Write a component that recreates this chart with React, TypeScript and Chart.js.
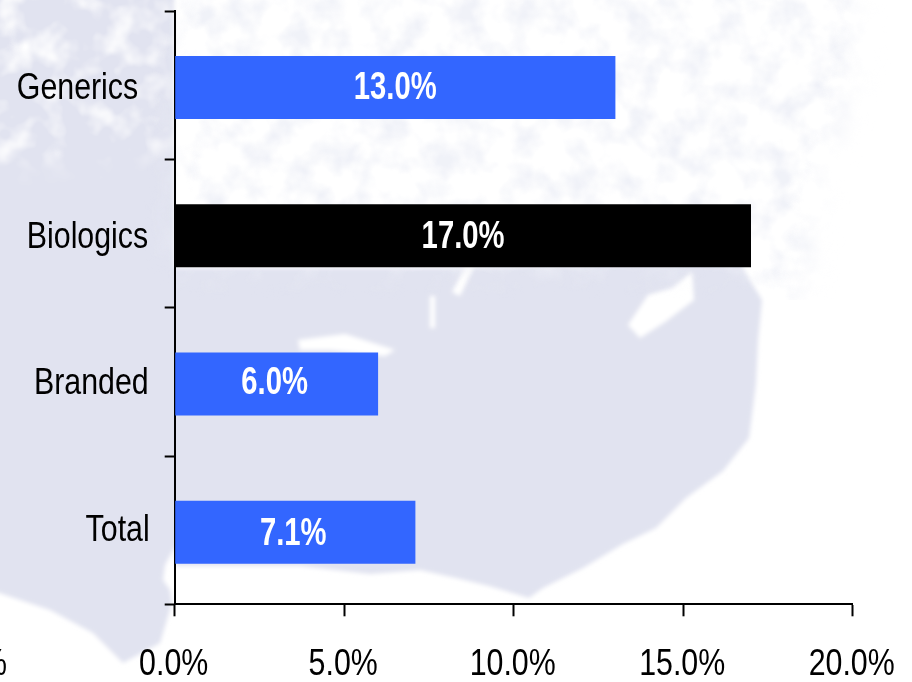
import React, { useEffect, useRef } from "react";
import { Chart, registerables } from "chart.js";

Chart.register(...registerables);

const categories = ["Generics", "Biologics", "Branded", "Total"];
const growthValues = [13.0, 17.0, 6.0, 7.1];
const barColors = ["#3366FF", "#000000", "#3366FF", "#3366FF"];
const axisTicks = [0, 5, 10, 15, 20];
const categoryLabelInsets = [36.5, 26.5, 26, 25];
const categoryBaselineShifts = [13.5, 14.5, 12.5, 11];
const valueBaselineShifts = [14, 14.5, 12.5, 15];
const valueCentreShifts = [0, 0, -2, -2];
const FONT = '"Liberation Sans", Arial, sans-serif';
const CONDENSE = 0.82;

const percent = (v: number) => `${v.toFixed(1)}%`;

// Draws text squeezed horizontally, anchored at (x, y).
function narrowText(ctx: any, text: string, x: number, y: number, squeeze = CONDENSE) {
  ctx.save();
  ctx.translate(x, y);
  ctx.scale(squeeze, 1);
  ctx.fillText(text, 0, 0);
  ctx.restore();
}

// Nudges the bars down inside their category bands.
const barNudge = {
  id: "barNudge",
  beforeDatasetsDraw(chart: any) {
    chart.ctx.save();
    chart.ctx.translate(0, 2);
  },
  afterDatasetsDraw(chart: any) {
    chart.ctx.restore();
  },
};

// Writes the axis labels and the value on each bar in a condensed face.
const chartText = {
  id: "chartText",
  afterDraw(chart: any) {
    const { ctx } = chart;
    const xScale = chart.scales.x;
    const yScale = chart.scales.y;
    const xZero = xScale.getPixelForValue(0);
    ctx.save();
    ctx.textBaseline = "alphabetic";
    ctx.font = `37px ${FONT}`;
    ctx.fillStyle = "#000000";

    ctx.textAlign = "right";
    categories.forEach((name, i) => {
      narrowText(
        ctx,
        name,
        xZero - categoryLabelInsets[i],
        yScale.getPixelForValue(i) + categoryBaselineShifts[i],
      );
    });
    // Tail of a neighbouring axis label, cut off by the page edge.
    narrowText(ctx, "%", 7, 675);

    ctx.textAlign = "center";
    axisTicks.forEach((value) => {
      narrowText(ctx, percent(value), xScale.getPixelForValue(value) - 1, 675);
    });

    ctx.font = `bold 38px ${FONT}`;
    ctx.fillStyle = "#FFFFFF";
    chart.getDatasetMeta(0).data.forEach((bar: any, i: number) => {
      narrowText(
        ctx,
        percent(growthValues[i]),
        bar.getCenterPoint().x + valueCentreShifts[i],
        yScale.getPixelForValue(i) + valueBaselineShifts[i],
        0.77,
      );
    });
    ctx.restore();
  },
};

// Pale map printed behind the plot.
function MapBackdrop() {
  const sea = "#FFFFFF";
  const land = "#E1E3F0";
  return (
    <svg width={912} height={682} style={{ position: "absolute", left: 0, top: 0 }}>
      <defs>
        <filter id="soft" x="-10%" y="-10%" width="120%" height="120%">
          <feGaussianBlur stdDeviation="2" />
        </filter>
        <filter id="fade" x="-20%" y="-20%" width="140%" height="140%">
          <feGaussianBlur stdDeviation="14" />
        </filter>
        <filter id="landNoise" x="0" y="0" width="100%" height="100%">
          <feTurbulence type="fractalNoise" baseFrequency="0.035" numOctaves="3" seed="7" />
          <feColorMatrix
            type="matrix"
            values="0 0 0 0 0.87  0 0 0 0 0.885  0 0 0 0 0.94  2.6 0 0 0 -1.08"
          />
        </filter>
        <filter id="seaNoise" x="0" y="0" width="100%" height="100%">
          <feTurbulence type="fractalNoise" baseFrequency="0.03" numOctaves="3" seed="11" />
          <feColorMatrix
            type="matrix"
            values="0 0 0 0 1  0 0 0 0 1  0 0 0 0 1  2.6 0 0 0 -1.2"
          />
        </filter>
        <mask id="upperLand">
          <path
            fill="#FFFFFF"
            filter="url(#fade)"
            d="M176,-30 L850,-30 L860,60 L820,180 L800,330 L745,270 L176,270 Z"
          />
        </mask>
        <mask id="upperLeft">
          <path fill="#FFFFFF" filter="url(#fade)" d="M-30,-30 L176,-30 L176,150 L-30,170 Z" />
        </mask>
      </defs>
      <rect width={912} height={682} fill={sea} />
      <g filter="url(#soft)">
        <path
          fill={land}
          d="M-10,-10 L174,-10 L174,268 L440,268 L600,266 L740,264 L762,300 L758,341 L756,384 L749,438 L723,471 L686,498 L656,528 L623,544 L583,568 L543,588 L529,598 L489,586 L456,578 L420,570 L370,574 L300,566 L176,566 L176,545 L165,565 L163,580 L170,590 L172,603 L160,643 L123,663 L93,633 L50,610 L-10,590 Z"
        />
        <path fill={sea} d="M628,325 L648,295 L672,288 L692,272 L694,300 L665,322 L640,338 Z" />
        <path fill={sea} d="M298,340 L345,334 L395,350 L385,356 L330,350 L300,350 Z" />
        <path fill={sea} d="M430,296 L435,296 L435,328 L430,328 Z" />
        <path fill={sea} d="M452,292 L470,258 L476,262 L460,296 Z" />
      </g>
      <g mask="url(#upperLand)">
        <rect x={0} y={0} width={912} height={300} filter="url(#landNoise)" />
      </g>
      <g mask="url(#upperLeft)">
        <rect x={0} y={0} width={176} height={200} filter="url(#seaNoise)" />
      </g>
    </svg>
  );
}

export default function App() {
  const canvasRef = useRef<HTMLCanvasElement>(null);

  useEffect(() => {
    document.body.style.margin = "0";
    const chart = new Chart(canvasRef.current as HTMLCanvasElement, {
      type: "bar",
      data: {
        labels: categories,
        datasets: [
          {
            data: growthValues,
            backgroundColor: barColors,
            barPercentage: 1,
            categoryPercentage: 0.425,
          },
        ],
      },
      plugins: [barNudge, chartText],
      options: {
        indexAxis: "y",
        animation: false,
        responsive: false,
        layout: { padding: { left: 164.7, right: 59.3, top: 11.3, bottom: 0 } },
        plugins: { legend: { display: false }, tooltip: { enabled: false } },
        scales: {
          x: {
            type: "linear",
            min: 0,
            max: 20,
            afterFit(scale: any) {
              scale.paddingLeft = 0;
              scale.paddingRight = 0;
              scale.height = 77.7;
            },
            afterBuildTicks(scale: any) {
              scale.ticks = axisTicks.map((value) => ({ value }));
            },
            grid: {
              drawOnChartArea: false,
              tickLength: 12,
              tickWidth: 2,
              tickColor: "#000000",
            },
            border: { display: true, color: "#000000", width: 2 },
            ticks: { display: false },
          },
          y: {
            afterFit(scale: any) {
              scale.width = 10;
            },
            grid: {
              drawOnChartArea: false,
              tickLength: 10,
              tickWidth: 2,
              tickColor: "#000000",
            },
            border: { display: true, color: "#000000", width: 2 },
            ticks: { display: false },
          },
        },
      },
    } as any);
    return () => chart.destroy();
  }, []);

  return (
    <div style={{ position: "relative", width: 912, height: 682, overflow: "hidden" }}>
      <MapBackdrop />
      <canvas
        ref={canvasRef}
        width={912}
        height={682}
        style={{ position: "absolute", left: 0, top: 0, display: "block" }}
      />
    </div>
  );
}
